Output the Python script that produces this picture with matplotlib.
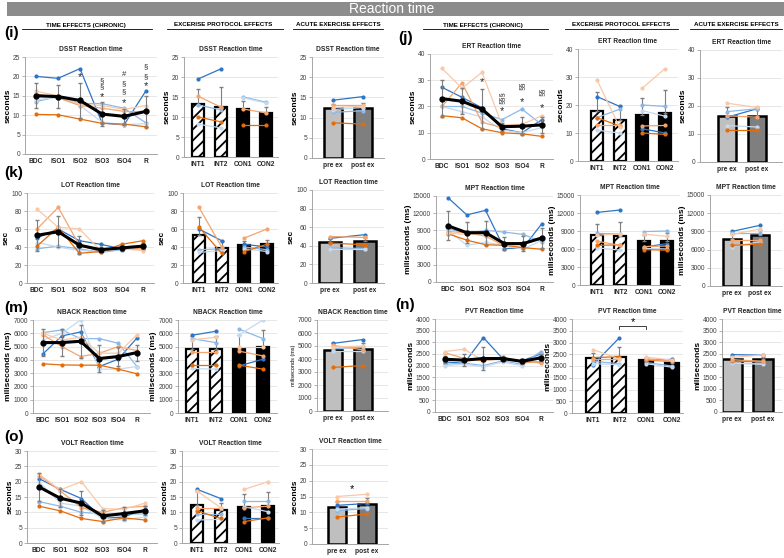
import numpy as np
import matplotlib.pyplot as plt
from matplotlib.patches import Rectangle
from matplotlib.lines import Line2D

plt.rcParams['font.family'] = ['Liberation Sans', 'DejaVu Sans']
plt.rcParams['hatch.linewidth'] = 1.3

W, H = 784, 558
nan = np.nan

time_cats = ['BDC', 'ISO1', 'ISO2', 'ISO3', 'ISO4', 'R']
prot_cats = ['INT1', 'INT2', 'CON1', 'CON2']
acute_cats = ['pre ex', 'post ex']

# subjects: dark blue, light blue, pale blue, dark orange, peach, pale peach
subj_colors = ['#2E75C6', '#8DB8E6', '#C5DAF0', '#E46C0A', '#F4A46E', '#F8C9A8']

# ---- DSST
dsst_time = [[20.0, 19.5, 22.0, 8.0, 7.5, 16.3],
             [13.5, 14.8, 13.0, 13.0, 11.8, 8.0],
             [14.0, 14.5, 12.5, 8.2, 7.6, 7.8],
             [10.2, 10.1, 9.0, 7.9, 7.7, 7.0],
             [15.5, 14.5, 12.5, 11.8, 11.0, 10.8],
             [16.2, 15.0, 12.8, 12.5, 11.5, 12.5]]
dsst_time_mean = [15.0, 14.8, 13.8, 10.3, 9.7, 11.0]
dsst_time_err = [3.2, 3.0, 4.5, 3.0, 2.0, 4.0]
dsst_prot = [13.2, 12.5, 12.0, 11.1]
dsst_prot_err = [3.8, 5.0, 2.0, 1.5]
dsst_prot_subj = [[19.5, 22.0, nan, nan],
                  [13.0, 11.8, 15.0, 13.7],
                  [8.2, 7.3, 14.8, 13.5],
                  [10.0, 8.8, 8.0, 8.0],
                  [15.2, 12.5, 12.0, 11.0],
                  [nan, nan, nan, nan]]
dsst_acute = [12.3, 12.5]
dsst_acute_err = [1.0, 1.0]
dsst_acute_subj = [[14.3, 15.2], [11.3, 11.7], [12.0, 12.5],
                   [8.7, 8.4], [13.0, 13.0], [12.5, 12.8]]
dsst_marks = [(2, 19.7, '*'), (3, 19.0, '§'), (3, 17.3, '§'), (3, 14.6, '*'),
              (4, 20.4, '#'), (4, 18.2, '§'), (4, 16.0, '§'), (4, 13.1, '*'),
              (5, 22.4, '§'), (5, 19.8, '§'), (5, 17.5, '*')]

# ---- ERT
ert_time = [[27.3, 23.5, 19.5, 11.5, 10.0, 15.0],
            [20.0, 20.0, 17.5, 15.0, 19.0, 13.0],
            [20.0, 18.0, 16.0, 11.0, 10.0, 12.0],
            [16.5, 15.7, 11.5, 10.0, 9.6, 8.6],
            [20.0, 29.0, 14.0, 12.0, 12.5, 13.0],
            [34.5, 27.0, 33.0, 13.0, 13.2, 16.5]]
ert_time_mean = [23.0, 22.0, 19.0, 12.3, 12.5, 13.0]
ert_time_err = [7.0, 5.0, 7.5, 1.5, 3.5, 3.0]
ert_prot = [18.0, 14.5, 16.5, 17.0]
ert_prot_err = [6.7, 5.0, 6.0, 8.5]
ert_prot_subj = [[23.0, 19.5, 11.5, 10.0],
                 [15.5, 18.5, 20.0, 19.5],
                 [11.0, 10.0, 18.0, 16.0],
                 [15.5, 12.5, 10.0, 9.5],
                 [13.0, 13.0, 12.5, 12.7],
                 [29.0, 12.0, 26.0, 33.0]]
ert_acute = [16.5, 16.5]
ert_acute_err = [3.0, 3.0]
ert_acute_subj = [[16.0, 19.0], [18.0, 19.0], [13.0, 12.5],
                  [11.5, 11.5], [16.5, 16.0], [21.0, 19.5]]
ert_marks = [(2, 29.4, '*'), (3, 18.4, '*'), (4, 21.5, '*'), (5, 19.4, '*')]
ert_marks_rot = [(3, 23.3, '§§§'), (4, 28.0, '§§'), (5, 25.7, '§§')]

# ---- LOT
lot_time = [[50, 60, 47, 43, 38, 40],
            [38, 41, 38, 34, 37, 38],
            [45, 40, 36, 35, 38, 40],
            [41, 62, 33, 35, 43, 47],
            [60, 84, 42, 35, 40, 38],
            [82, 62, 60, 36, 38, 36]]
lot_time_mean = [53, 57, 42, 37, 39, 41]
lot_time_err = [17, 17, 10, 3, 3, 3]
lot_prot = [53, 39, 42, 43]
lot_prot_err = [20, 8, 5, 5]
lot_prot_subj = [[60, 47, 43, 40],
                 [37, 38, 40, 37],
                 [34, 36, 38, 35],
                 [62, 33, 35, 43],
                 [84, 40, 50, 60],
                 [nan, nan, nan, nan]]
lot_acute = [44, 45]
lot_acute_err = [3, 3]
lot_acute_subj = [[48, 52], [38, 37], [37, 37], [43, 41], [50, 49], [nan, nan]]

# ---- MPT
mpt_time = [[14700, 11700, 12500, 5800, 6000, 10200],
            [9300, 8500, 9000, 8700, 8300, 7000],
            [9000, 6400, 6900, 6400, 5700, 7300],
            [8400, 7300, 6500, 6400, 6000, 5700],
            [8800, 8600, 8000, 6300, 6800, 7600],
            [8500, 8300, 8500, 6500, 6500, 7800]]
mpt_time_mean = [9800, 8600, 8600, 6700, 6700, 7700]
mpt_time_err = [2500, 1800, 2100, 1100, 1300, 1700]
mpt_prot = [8300, 8200, 7400, 7400]
mpt_prot_err = [1900, 2300, 1000, 1300]
mpt_prot_subj = [[12100, 12500, 6300, 6900],
                 [8600, 8500, 8900, 9000],
                 [6200, 5800, 6100, 6000],
                 [6600, 6700, 5900, 5800],
                 [7300, 6600, 6400, 6500],
                 [8300, 8500, 8500, 8100]]
mpt_acute = [7800, 8400]
mpt_acute_err = [800, 800]
mpt_acute_subj = [[9000, 10000], [8700, 8700], [6500, 7300],
                  [6700, 6900], [7500, 7500], [8500, 9400]]

# ---- NBACK
nback_time = [[4450, 5800, 6100, 3500, 4050, 5650],
              [6050, 6250, 5600, 5600, 5250, 3500],
              [5500, 6000, 7000, 3300, 3300, 3500],
              [3700, 3620, 3600, 3600, 3300, 2950],
              [5900, 5000, 4250, 4500, 5000, 4700],
              [6000, 5500, 5700, 4500, 4500, 5900]]
nback_time_mean = [5300, 5300, 5400, 4100, 4250, 4550]
nback_time_err = [1000, 1000, 1250, 1000, 700, 600]
nback_prot = [4800, 4800, 4850, 4950]
nback_prot_err = [1000, 1000, 1000, 1300]
nback_prot_subj = [[5850, 6150, 3550, 4050],
                   [5600, 5300, 6300, 5600],
                   [3350, 3300, 5900, 7000],
                   [3650, 3650, 3600, 3300],
                   [4600, 4600, 4650, 4300],
                   [5500, 5700, 5000, 5000]]
nback_acute = [4700, 4750]
nback_acute_err = [500, 500]
nback_acute_subj = [[5200, 5500], [4800, 4900], [4650, 4650],
                    [3350, 3500], [5050, 4700], [4900, 5000]]

# ---- PVT
pvt_time = [[2150, 2100, 3200, 2300, 2200, 2500],
            [2050, 2100, 2000, 2200, 2050, 2600],
            [2000, 2050, 1950, 2150, 2000, 2450],
            [2250, 2250, 2300, 2350, 2150, 2150],
            [2550, 2300, 2200, 2300, 2200, 2100],
            [2600, 2700, 2200, 2350, 2200, 2300]]
pvt_time_mean = [2270, 2230, 2300, 2300, 2180, 2330]
pvt_time_err = [150, 250, 480, 80, 100, 150]
pvt_prot = [2350, 2400, 2250, 2130]
pvt_prot_err = [200, 400, 100, 100]
pvt_prot_subj = [[2050, 3200, 2250, 2280],
                 [2200, 2100, 2150, 2000],
                 [2100, 2050, 2100, 1950],
                 [2350, 2400, 2250, 2200],
                 [2300, 2300, 2300, 2200],
                 [2700, 2300, 2380, 2250]]
pvt_acute = [2280, 2270]
pvt_acute_err = [100, 100]
pvt_acute_subj = [[2470, 2440], [2100, 2100], [2100, 2050],
                  [2200, 2200], [2250, 2180], [2350, 2450]]

# ---- VOLT
volt_time = [[21, 17.5, 14.5, 8, 8.5, 11],
             [13.5, 12, 10, 9.5, 9.5, 9.5],
             [20, 13, 12, 8, 7.5, 8.5],
             [12, 10.5, 8, 7, 8.2, 7.5],
             [22, 17, 11.5, 10, 11.5, 12],
             [22.5, 17.3, 20, 11.2, 11, 13]]
volt_time_mean = [18.3, 14.6, 13, 8.8, 9.6, 10.5]
volt_time_err = [4.5, 3, 4, 1.8, 2, 1.5]
volt_prot = [12.3, 10.6, 11.8, 12.2]
volt_prot_err = [4.7, 2.4, 4.2, 4.3]
volt_prot_subj = [[17.5, 14.5, 8.3, 8.3],
                  [9.5, 9.5, 13.8, 13.8],
                  [7.5, 7.7, 11.8, 10.2],
                  [10.5, 8.0, 7.0, 8.2],
                  [11.3, 11.3, 11.5, 12.0],
                  [17.0, 11.5, 17.5, 20.0]]
volt_acute = [11.8, 12.5]
volt_acute_err = [1.5, 2.0]
volt_acute_subj = [[12.2, 12.8], [10.5, 11.2], [11.0, 11.5],
                   [8.5, 9.5], [13.5, 13.5], [15.0, 15.7]]

fig = plt.figure(figsize=(W / 100, H / 100), dpi=100)


def add_ax(x0, x1, ytop, ybot, c0, c1, cats, ymax, step, title, ylabel, ylab_size=6, ylab_bold=True):
    ax = fig.add_axes([x0 / W, 1 - ybot / H, (x1 - x0) / W, (ybot - ytop) / H])
    n = len(cats)
    u = (n - 1) / (c1 - c0)
    ax.set_xlim(-(c0 - x0) * u, (n - 1) + (x1 - c1) * u)
    ax.set_ylim(0, ymax)
    ax.set_yticks(np.arange(0, ymax + step / 2, step))
    ax.set_xticks(range(n))
    ax.set_xticklabels(cats, fontsize=4.8, fontweight='bold', color='#262626')
    ax.tick_params(axis='y', labelsize=4.8, labelcolor='#404040', length=2, width=0.6,
                   color='#A6A6A6', pad=1.5)
    ax.tick_params(axis='x', length=0, pad=3)
    for s in ['top', 'right']:
        ax.spines[s].set_visible(False)
    for s in ['left', 'bottom']:
        ax.spines[s].set_color('#A6A6A6')
        ax.spines[s].set_linewidth(0.7)
    ax.grid(axis='y', color='#E3E3E3', lw=0.6)
    ax.set_axisbelow(True)
    ax.set_title(title, fontsize=4.8, fontweight='bold', color='#262626', pad=4)
    ax.set_ylabel(ylabel, fontsize=ylab_size, fontweight='bold' if ylab_bold else 'normal',
                  labelpad=1)
    return ax


def time_panel(ax, subj, mean, err):
    x = np.arange(6)
    for vals, c in zip(subj, subj_colors):
        ax.plot(x, vals, '-o', color=c, lw=0.9, ms=2)
    ax.errorbar(x, mean, yerr=err, color='black', lw=2.2, marker='o', ms=3.5,
                ecolor='#7F7F7F', elinewidth=0.8, capsize=1.5, zorder=5)


def prot_panel(ax, bars, err, subj):
    x = np.arange(4)
    ax.bar(x[:2], bars[:2], 0.52, color='white', edgecolor='black', hatch='///', lw=1.6, zorder=2)
    ax.bar(x[2:], bars[2:], 0.52, color='black', edgecolor='black', lw=1.6, zorder=2)
    ax.errorbar(x, bars, yerr=[np.zeros(4), err], fmt='none', ecolor='#7F7F7F',
                elinewidth=0.8, capsize=1.5, zorder=3)
    for vals, c in zip(subj, subj_colors):
        ax.plot(x[:2], vals[:2], '-o', color=c, lw=0.9, ms=2, zorder=4)
        ax.plot(x[2:], vals[2:], '-o', color=c, lw=0.9, ms=2, zorder=4)


def acute_panel(ax, bars, err, subj):
    x = np.arange(2)
    ax.bar(x, bars, 0.62, color=['#BFBFBF', '#7F7F7F'], edgecolor='black', lw=1.8, zorder=2)
    ax.errorbar(x, bars, yerr=[np.zeros(2), err], fmt='none', ecolor='#7F7F7F',
                elinewidth=0.8, capsize=1.5, zorder=3)
    for vals, c in zip(subj, subj_colors):
        ax.plot(x, vals, '-o', color=c, lw=0.9, ms=2, zorder=4)


# title bar
fig.add_artist(Rectangle((7 / W, 1 - 16 / H), 1 - 7 / W, 14 / H, transform=fig.transFigure,
                         facecolor='#8C8C8C', edgecolor='none'))
fig.text(392 / W, 1 - 9 / H, 'Reaction time', ha='center', va='center', fontsize=10, color='white')

# section headers
headers = [(86, 22, 152, 'TIME EFFECTS (CHRONIC)'), (223, 167, 283, 'EXCERISE PROTOCOL EFFECTS'),
           (338, 293, 383, 'ACUTE EXERCISE EFFECTS'), (483, 423, 548, 'TIME EFFECTS (CHRONIC)'),
           (621, 565, 678, 'EXCERISE PROTOCOL EFFECTS'), (736, 690, 782, 'ACUTE EXERCISE EFFECTS')]
for xc, xa, xb, txt in headers:
    fig.text(xc / W, 1 - 25 / H, txt, ha='center', va='center', fontsize=4.5, fontweight='bold')
    fig.add_artist(Line2D([xa / W, xb / W], [1 - 28.5 / H] * 2, transform=fig.transFigure,
                          color='black', lw=0.6))

for x, y, lab in [(4, 33, '(i)'), (398, 38, '(j)'), (4, 173, '(k)'), (4, 308, '(m)'),
                  (395, 305, '(n)'), (4, 437, '(o)')]:
    fig.text(x / W, 1 - y / H, lab, ha='left', va='center', fontsize=11, fontweight='bold')

# DSST
ax = add_ax(25, 157, 57, 154, 36, 146, time_cats, 25, 5, 'DSST Reaction time', 'seconds')
time_panel(ax, dsst_time, dsst_time_mean, dsst_time_err)
for x, y, t in dsst_marks:
    ax.text(x, y, t, ha='center', va='center', fontsize=5.5 if t != '*' else 8, color='#262626')
ax = add_ax(184, 278, 57, 157, 198, 266, prot_cats, 25, 5, 'DSST Reaction time', 'seconds')
prot_panel(ax, dsst_prot, dsst_prot_err, dsst_prot_subj)
ax = add_ax(312, 384, 57, 158, 333, 363, acute_cats, 25, 5, 'DSST Reaction time', 'seconds')
acute_panel(ax, dsst_acute, dsst_acute_err, dsst_acute_subj)

# ERT
ax = add_ax(430, 553, 54, 159, 442, 542, time_cats, 40, 10, 'ERT Reaction time', 'seconds')
time_panel(ax, ert_time, ert_time_mean, ert_time_err)
for x, y, t in ert_marks:
    ax.text(x, y, t, ha='center', va='center', fontsize=8, color='#262626')
for x, y, t in ert_marks_rot:
    ax.text(x, y, t, ha='center', va='center', fontsize=5.5, rotation=90, color='#262626')
ax = add_ax(578, 678, 49, 161, 597, 665, prot_cats, 40, 10, 'ERT Reaction time', 'seconds')
prot_panel(ax, ert_prot, ert_prot_err, ert_prot_subj)
ax = add_ax(700, 782, 50, 162, 727, 757, acute_cats, 40, 10, 'ERT Reaction time', 'seconds')
acute_panel(ax, ert_acute, ert_acute_err, ert_acute_subj)

# LOT
ax = add_ax(27, 154, 193, 283, 37, 143, time_cats, 100, 20, 'LOT Reaction time', 'sec')
time_panel(ax, lot_time, lot_time_mean, lot_time_err)
ax = add_ax(183, 278, 193, 283, 199, 267, prot_cats, 100, 20, 'LOT Reaction time', 'sec')
prot_panel(ax, lot_prot, lot_prot_err, lot_prot_subj)
ax = add_ax(312, 384, 190, 283, 330, 365, acute_cats, 100, 20, 'LOT Reaction time', 'sec')
acute_panel(ax, lot_acute, lot_acute_err, lot_acute_subj)

# MPT
ax = add_ax(436, 553, 196, 282, 448, 542, time_cats, 15000, 3000, 'MPT Reaction time',
            'miliseconds (ms)')
time_panel(ax, mpt_time, mpt_time_mean, mpt_time_err)
ax = add_ax(580, 680, 195, 285, 597, 667, prot_cats, 15000, 3000, 'MPT Reaction time',
            'miliseconds (ms)')
prot_panel(ax, mpt_prot, mpt_prot_err, mpt_prot_subj)
ax = add_ax(710, 782, 195, 286, 732, 760, acute_cats, 15000, 3000, 'MPT Reaction time',
            'miliseconds (ms)')
acute_panel(ax, mpt_acute, mpt_acute_err, mpt_acute_subj)

# NBACK
ax = add_ax(33, 150, 320, 413, 43, 137, time_cats, 7000, 1000, 'NBACK Reaction time',
            'miliseconds (ms)')
time_panel(ax, nback_time, nback_time_mean, nback_time_err)
ax = add_ax(178, 277, 320, 413, 192, 263, prot_cats, 7000, 1000, 'NBACK Reaction time',
            'miliseconds (ms)')
prot_panel(ax, nback_prot, nback_prot_err, nback_prot_subj)
ax = add_ax(317, 388, 320, 411, 333, 363, acute_cats, 7000, 1000, 'NBACK Reaction time',
            'miliseconds (ms)', ylab_size=4, ylab_bold=False)
acute_panel(ax, nback_acute, nback_acute_err, nback_acute_subj)

# PVT
ax = add_ax(435, 553, 319, 412, 445, 541, time_cats, 4000, 500, 'PVT Reaction time', 'miliseconds')
time_panel(ax, pvt_time, pvt_time_mean, pvt_time_err)
ax = add_ax(572, 683, 319, 413, 593, 672, prot_cats, 4000, 500, 'PVT Reaction time', 'miliseconds')
prot_panel(ax, pvt_prot, pvt_prot_err, pvt_prot_subj)
ax.plot([1, 1, 2, 2], [3580, 3700, 3700, 3580], color='#404040', lw=0.7)
ax.text(1.5, 3870, '*', ha='center', va='center', fontsize=8)
ax = add_ax(722, 782, 319, 412, 732, 763, acute_cats, 4000, 500, 'PVT Reaction time', 'miliseconds')
acute_panel(ax, pvt_acute, pvt_acute_err, pvt_acute_subj)

# VOLT
ax = add_ax(27, 157, 451, 543, 39, 145, time_cats, 30, 5, 'VOLT Reaction time', 'seconds')
time_panel(ax, volt_time, volt_time_mean, volt_time_err)
ax = add_ax(182, 279, 451, 543, 197, 268, prot_cats, 30, 5, 'VOLT Reaction time', 'seconds')
prot_panel(ax, volt_prot, volt_prot_err, volt_prot_subj)
ax = add_ax(312, 388, 449, 544, 337, 367, acute_cats, 30, 5, 'VOLT Reaction time', 'seconds')
acute_panel(ax, volt_acute, volt_acute_err, volt_acute_subj)
ax.text(0.5, 17.5, '*', ha='center', va='center', fontsize=8)

fig.savefig('out.png', dpi=100)
